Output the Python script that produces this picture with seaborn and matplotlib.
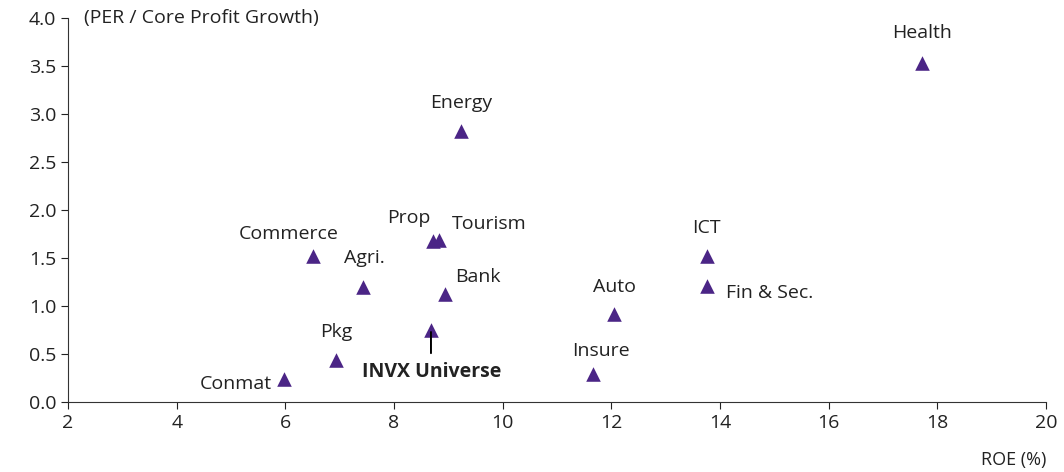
import seaborn as sns
import pandas as pd
from matplotlib import pyplot as plt

sectors = ["Health", "Energy", "Commerce", "Prop", "Tourism", "Agri.", "Bank",
           "ICT", "Fin & Sec.", "Auto", "INVX Universe", "Pkg", "Insure", "Conmat"]
roe = [17.72, 9.23, 6.51, 8.72, 8.83, 7.43, 8.94,
       13.76, 13.76, 12.05, 8.68, 6.93, 11.66, 5.98]
peg = [3.53, 2.82, 1.52, 1.68, 1.69, 1.20, 1.13,
       1.52, 1.21, 0.92, 0.75, 0.44, 0.29, 0.24]

# label offsets in pixels (dx, dy) from each marker
offsets = {
    "Health": (0, 30), "Energy": (0, 28), "Commerce": (-24, 22),
    "Prop": (-24, 23), "Tourism": (50, 16), "Agri.": (1, 29),
    "Bank": (33, 17), "ICT": (0, 28), "Fin & Sec.": (63, -7),
    "Auto": (0, 27), "Pkg": (0, 28), "Insure": (8, 23), "Conmat": (-48, -5),
}

df = pd.DataFrame({"sector": sectors, "roe": roe, "peg": peg})

sns.set_style("ticks")
plt.rcParams['font.family'] = ['Open Sans', 'DejaVu Sans']

fig = plt.figure(figsize=(10.64, 4.72), dpi=100)
ax = fig.add_axes([0.064, 0.148, 0.919, 0.814])

purple = "#4B2586"
fs = 14
sns.scatterplot(data=df, x="roe", y="peg", ax=ax, marker="^", s=110,
                color=purple, linewidth=0, legend=False)

for name, x, y in zip(sectors, roe, peg):
    if name == "INVX Universe":
        ax.annotate(name, xy=(x, y), xytext=(1, -42), textcoords="offset pixels",
                    ha="center", va="center", fontsize=fs, fontweight="bold",
                    color="#222222")
        ax.annotate("", xy=(x, y - 0.02), xytext=(x, y - 0.24),
                    arrowprops=dict(arrowstyle="-", color="black", lw=1.4,
                                    shrinkA=0, shrinkB=0), zorder=5)
    else:
        dx, dy = offsets[name]
        ax.annotate(name, xy=(x, y), xytext=(dx, dy), textcoords="offset pixels",
                    ha="center", va="center", fontsize=fs, color="#222222")

ax.set_xlim(2, 20)
ax.set_ylim(0, 4.0)
ax.set_xticks(range(2, 21, 2))
ax.set_yticks([i * 0.5 for i in range(9)])
ax.set_yticklabels([f"{i * 0.5:.1f}" for i in range(9)])
ax.tick_params(labelsize=fs, colors="#222222", length=5, width=0.8)
ax.set_xlabel("")
ax.set_ylabel("")
ax.text(0.016, 1.0, "(PER / Core Profit Growth)", transform=ax.transAxes,
        ha="left", va="center", fontsize=fs, color="#222222")
ax.text(1.0, -0.15, "ROE (%)", transform=ax.transAxes, ha="right",
        va="center", fontsize=fs - 1, color="#222222")

for s in ["left", "bottom"]:
    ax.spines[s].set_color("#333333")
    ax.spines[s].set_linewidth(0.8)
sns.despine(ax=ax)

fig.savefig("out.png", dpi=100)
